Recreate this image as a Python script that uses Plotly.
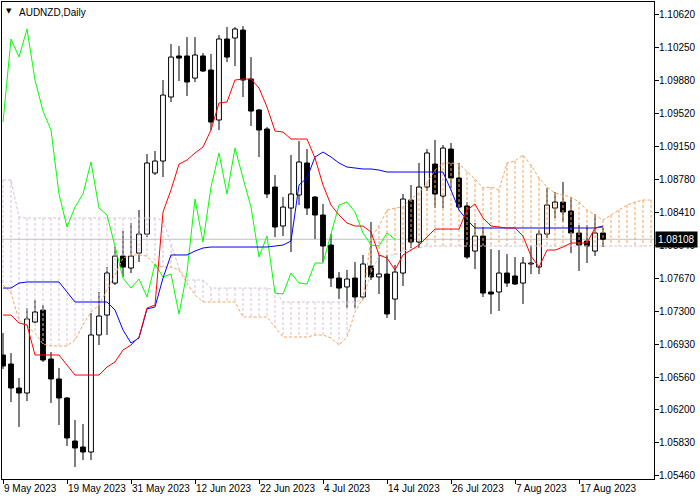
import plotly.graph_objects as go

# ---------------- data ----------------
date_labels = ["9 May 2023", "19 May 2023", "31 May 2023", "12 Jun 2023", "22 Jun 2023",
               "4 Jul 2023", "14 Jul 2023", "26 Jul 2023", "7 Aug 2023", "17 Aug 2023"]
label_bars = [0, 8, 16, 24, 32, 40, 48, 56, 64, 72]

opens = [1.06813, 1.06712, 1.06444, 1.06388, 1.07182, 1.07316, 1.06768, 1.06545, 1.06332, 1.05851,
         1.05784, 1.05728, 1.07037, 1.07260, 1.07618, 1.07920, 1.07786, 1.07953, 1.08166, 1.08849,
         1.08983, 1.09699, 1.10158, 1.10158, 1.09911, 1.10158, 1.10001, 1.09442, 1.10348, 1.10359,
         1.10448, 1.09900, 1.09554, 1.09341, 1.08692, 1.08256, 1.08457, 1.08603, 1.08961, 1.08580,
         1.08379, 1.08043, 1.07674, 1.07574, 1.07674, 1.07462, 1.07809, 1.07686, 1.07719, 1.07439,
         1.07730, 1.08547, 1.08077, 1.08692, 1.08949, 1.08591, 1.09117, 1.08793, 1.08480, 1.07976,
         1.08144, 1.07518, 1.07518, 1.07730, 1.07697, 1.07618, 1.07831, 1.07797, 1.08166, 1.08457,
         1.08524, 1.08424, 1.08178, 1.08088, 1.07976, 1.08178]
highs = [1.07059, 1.06835, 1.06556, 1.07339, 1.07428, 1.07372, 1.06847, 1.06668, 1.06343, 1.06086,
         1.06041, 1.07283, 1.07518, 1.07797, 1.08021, 1.08200, 1.08290, 1.08435, 1.09061, 1.09095,
         1.09889, 1.10292, 1.10269, 1.10370, 1.10370, 1.10191, 1.10180, 1.10392, 1.10482, 1.10482,
         1.10493, 1.10146, 1.09565, 1.09363, 1.08826, 1.08580, 1.09050, 1.09207, 1.09117, 1.08591,
         1.08502, 1.08166, 1.07741, 1.07764, 1.07853, 1.07932, 1.08301, 1.07932, 1.07932, 1.07820,
         1.08614, 1.08715, 1.08961, 1.09117, 1.09218, 1.09162, 1.09184, 1.08961, 1.08524, 1.08290,
         1.08245, 1.07998, 1.07987, 1.07942, 1.07909, 1.07909, 1.08043, 1.08211, 1.08681, 1.08636,
         1.08748, 1.08580, 1.08267, 1.08267, 1.08390, 1.08234]
lows = [1.06656, 1.06287, 1.06008, 1.06298, 1.07171, 1.06735, 1.06276, 1.06030, 1.05795, 1.05560,
        1.05638, 1.05638, 1.06925, 1.07037, 1.07596, 1.07686, 1.07730, 1.07853, 1.08133, 1.08826,
        1.08804, 1.09643, 1.09878, 1.09710, 1.09867, 1.09979, 1.09330, 1.09330, 1.10090, 1.10046,
        1.09699, 1.09375, 1.09028, 1.08569, 1.08133, 1.08144, 1.07965, 1.08491, 1.08379, 1.08110,
        1.07853, 1.07574, 1.07439, 1.07339, 1.07339, 1.07439, 1.07652, 1.07495, 1.07227, 1.07204,
        1.07585, 1.08010, 1.08010, 1.08647, 1.08457, 1.08457, 1.08681, 1.08457, 1.07887, 1.07775,
        1.07462, 1.07272, 1.07305, 1.07574, 1.07596, 1.07383, 1.07719, 1.07719, 1.08122, 1.08345,
        1.08301, 1.07953, 1.07753, 1.07842, 1.07920, 1.08021]
closes = [1.06690, 1.06444, 1.06388, 1.07216, 1.07294, 1.06757, 1.06545, 1.06332, 1.05885, 1.05773,
          1.05728, 1.07037, 1.07249, 1.07730, 1.07920, 1.07797, 1.07920, 1.08166, 1.08961, 1.08983,
          1.09721, 1.10146, 1.10135, 1.09867, 1.10169, 1.09990, 1.09419, 1.10348, 1.10146, 1.10460,
          1.09889, 1.09542, 1.09330, 1.08614, 1.08245, 1.08468, 1.08614, 1.08972, 1.08457, 1.08379,
          1.08032, 1.07674, 1.07562, 1.07663, 1.07462, 1.07831, 1.07686, 1.07719, 1.07272, 1.07741,
          1.08558, 1.08077, 1.08692, 1.09073, 1.08614, 1.09128, 1.08793, 1.08468, 1.07909, 1.08144,
          1.07506, 1.07495, 1.07730, 1.07618, 1.07607, 1.07842, 1.07842, 1.08166, 1.08491, 1.08524,
          1.08413, 1.08178, 1.08043, 1.08032, 1.08178, 1.08108]

tenkan = [1.07260, 1.07260, 1.07171, 1.07149, 1.06813, 1.06813, 1.06813, 1.06813, 1.06701, 1.06589,
          1.06589, 1.06589, 1.06589, 1.06679, 1.06735, 1.06869, 1.06925, 1.07014, 1.07339, 1.07372,
          1.08413, 1.08659, 1.08949, 1.08994, 1.09073, 1.09140, 1.09330, 1.09632, 1.09643, 1.09889,
          1.09900, 1.09900, 1.09800, 1.09587, 1.09319, 1.09307, 1.09229, 1.09229, 1.09229, 1.09017,
          1.08715, 1.08491, 1.08379, 1.08290, 1.08256, 1.08256, 1.08189, 1.07932, 1.07898, 1.07764,
          1.07932, 1.07987, 1.08043, 1.08133, 1.08222, 1.08222, 1.08222, 1.08222, 1.08435, 1.08502,
          1.08345, 1.08256, 1.08245, 1.08234, 1.08234, 1.08144, 1.07920, 1.07797, 1.07987, 1.07987,
          1.08021, 1.08066, 1.08066, 1.08066, 1.08234, 1.08245]
kijun = [1.07562, 1.07562, 1.07618, 1.07630, 1.07630, 1.07630, 1.07630, 1.07630, 1.07518, 1.07406,
         1.07406, 1.07406, 1.07406, 1.07406, 1.07316, 1.07093, 1.06947, 1.07003, 1.07328, 1.07350,
         1.07674, 1.07932, 1.07932, 1.07932, 1.07976, 1.08010, 1.08021, 1.08021, 1.08021, 1.08021,
         1.08021, 1.08021, 1.08021, 1.08021, 1.08032, 1.08043, 1.08088, 1.08715, 1.08793, 1.09028,
         1.09084, 1.09028, 1.08961, 1.08916, 1.08905, 1.08894, 1.08894, 1.08882, 1.08860, 1.08860,
         1.08860, 1.08860, 1.08860, 1.08860, 1.08860, 1.08860, 1.08659, 1.08435, 1.08323, 1.08234,
         1.08234, 1.08234, 1.08234, 1.08234, 1.08234, 1.08234, 1.08234, 1.08234, 1.08234, 1.08234,
         1.08234, 1.08234, 1.08234, 1.08234, 1.08234, 1.08256]
span_a = [1.07596, 1.07506, 1.07204, 1.07126, 1.07059, 1.06936, 1.06914, 1.06914, 1.06914, 1.06981,
          1.07149, 1.07294, 1.07372, 1.07540, 1.07708, 1.07898, 1.07932, 1.07932, 1.07920, 1.07820,
          1.07797, 1.07797, 1.07764, 1.07618, 1.07484, 1.07406, 1.07406, 1.07406, 1.07406, 1.07406,
          1.07238, 1.07238, 1.07238, 1.07238, 1.07126, 1.07014, 1.07014, 1.07014, 1.07014, 1.07037,
          1.07037, 1.07003, 1.06925, 1.07014, 1.07294, 1.07451, 1.08122, 1.08256, 1.08435, 1.08457,
          1.08468, 1.08558, 1.08625, 1.08737, 1.08882, 1.08961, 1.08961, 1.08949, 1.08860, 1.08782,
          1.08681, 1.08692, 1.08659, 1.08961, 1.08983, 1.09050, 1.08938, 1.08793, 1.08692, 1.08625,
          1.08603, 1.08580, 1.08524, 1.08435, 1.08379, 1.08323, 1.08379, 1.08435, 1.08491, 1.08524,
          1.08547, 1.08547]
span_b = [1.08771, 1.08771, 1.08357, 1.08345, 1.08345, 1.08345, 1.08345, 1.08345, 1.08345, 1.08345,
          1.08345, 1.08345, 1.08345, 1.08345, 1.08345, 1.08345, 1.08345, 1.08345, 1.08345, 1.08345,
          1.08323, 1.08043, 1.07786, 1.07652, 1.07652, 1.07652, 1.07562, 1.07562, 1.07562, 1.07562,
          1.07562, 1.07562, 1.07562, 1.07562, 1.07540, 1.07406, 1.07406, 1.07406, 1.07406, 1.07406,
          1.07406, 1.07406, 1.07406, 1.07406, 1.07406, 1.07428, 1.07741, 1.07920, 1.07932, 1.07932,
          1.07976, 1.07998, 1.08010, 1.08032, 1.08032, 1.08032, 1.08032, 1.08032, 1.08032, 1.08032,
          1.08032, 1.08032, 1.08032, 1.08032, 1.08032, 1.08032, 1.08032, 1.08032, 1.08032, 1.08032,
          1.08032, 1.08032, 1.08032, 1.08032, 1.08032, 1.08032, 1.08032, 1.08032, 1.08032, 1.08032,
          1.08032, 1.08032]
chikou_shift = 26
price_ticks = [1.10620, 1.10250, 1.09880, 1.09520, 1.09150, 1.08780, 1.08410, 1.08040,
               1.07670, 1.07300, 1.06930, 1.06560, 1.06200, 1.05830, 1.05460]
last_price = 1.08108
title_text = "AUDNZD,Daily"

# ---------------- styling ----------------
FONT = "Liberation Sans"
SANDY = "#F4A460"
THISTLE = "#D8BFD8"
HALF = 0.3

fig = go.Figure()

# candle wicks
wx, wy = [], []
for i in range(len(opens)):
    wx += [i, i, None]
    wy += [highs[i], lows[i], None]
fig.add_trace(go.Scatter(x=wx, y=wy, mode="lines", line=dict(color="black", width=1),
                         hoverinfo="skip"))

# candle bodies
bx_up, by_up, bx_dn, by_dn = [], [], [], []
for i in range(len(opens)):
    xs = [i - HALF, i + HALF, i + HALF, i - HALF, i - HALF, None]
    ys = [opens[i], opens[i], closes[i], closes[i], opens[i], None]
    if closes[i] >= opens[i]:
        bx_up += xs
        by_up += ys
    else:
        bx_dn += xs
        by_dn += ys
fig.add_trace(go.Scatter(x=bx_up, y=by_up, mode="lines", fill="toself", fillcolor="white",
                         line=dict(color="black", width=1), hoverinfo="skip"))
fig.add_trace(go.Scatter(x=bx_dn, y=by_dn, mode="lines", fill="toself", fillcolor="black",
                         line=dict(color="black", width=1), hoverinfo="skip"))

# cloud hatch
hx_a, hy_a, hx_b, hy_b = [], [], [], []
for i in range(len(span_a)):
    if span_a[i] >= span_b[i]:
        hx_a += [i, i, None]
        hy_a += [span_a[i], span_b[i], None]
    else:
        hx_b += [i, i, None]
        hy_b += [span_b[i], span_a[i], None]
fig.add_trace(go.Scatter(x=hx_b, y=hy_b, mode="lines",
                         line=dict(color=THISTLE, width=1, dash="3px,2px"), hoverinfo="skip"))
fig.add_trace(go.Scatter(x=hx_a, y=hy_a, mode="lines",
                         line=dict(color=SANDY, width=1, dash="3px,2px"), hoverinfo="skip"))

# span lines
fig.add_trace(go.Scatter(x=list(range(len(span_b))), y=span_b, mode="lines",
                         line=dict(color=THISTLE, width=1, dash="3px,2px"), hoverinfo="skip"))
fig.add_trace(go.Scatter(x=list(range(len(span_a))), y=span_a, mode="lines",
                         line=dict(color=SANDY, width=1, dash="3px,2px"), hoverinfo="skip"))

# chikou, tenkan, kijun
fig.add_trace(go.Scatter(x=[i - chikou_shift for i in range(chikou_shift, len(closes))],
                         y=closes[chikou_shift:], mode="lines",
                         line=dict(color="#00FF00", width=1), hoverinfo="skip"))
fig.add_trace(go.Scatter(x=list(range(len(kijun))), y=kijun, mode="lines",
                         line=dict(color="#0000FF", width=1), hoverinfo="skip"))
fig.add_trace(go.Scatter(x=list(range(len(tenkan))), y=tenkan, mode="lines",
                         line=dict(color="#FF0000", width=1), hoverinfo="skip"))

# current price line
fig.add_shape(type="line", xref="paper", x0=0, x1=1, yref="y", y0=last_price, y1=last_price,
              line=dict(color="#C0C0C0", width=1), layer="below")

fig.add_annotation(xref="paper", x=1, xanchor="left", xshift=1, yref="y", y=last_price,
                   yanchor="middle", text="%.5f" % last_price, showarrow=False,
                   bgcolor="black", font=dict(family=FONT, size=10, color="white"),
                   borderpad=2)

fig.add_annotation(xref="paper", yref="paper", x=0, y=1, xanchor="center", yanchor="middle",
                   xshift=7, yshift=-9, text="▼", showarrow=False,
                   font=dict(family="DejaVu Sans", size=7, color="black"))
fig.add_annotation(xref="paper", yref="paper", x=0, y=1, xanchor="left", yanchor="middle",
                   xshift=15, yshift=-10, text=title_text, showarrow=False,
                   font=dict(family=FONT, size=10, color="black"))

fig.update_layout(
    width=700, height=500,
    margin=dict(l=2, r=46, t=2, b=21, autoexpand=False),
    paper_bgcolor="white", plot_bgcolor="white",
    showlegend=False, hovermode=False,
    font=dict(family=FONT, size=10, color="black"),
    xaxis=dict(range=[-0.125, 81.375], tickvals=label_bars, ticktext=date_labels,
               ticks="outside", ticklen=4, tickcolor="black", showline=True, linecolor="black",
               linewidth=1, mirror=True, showgrid=False, zeroline=False, automargin=False,
               tickangle=0, ticklabelposition="outside right", fixedrange=True,
               tickfont=dict(family=FONT, size=10)),
    yaxis=dict(range=[1.05426, 1.10762], side="right", tickvals=price_ticks,
               ticktext=["%.5f" % v for v in price_ticks], ticks="outside", ticklen=4,
               tickcolor="black", showline=True, linecolor="black", linewidth=1, mirror=True,
               showgrid=False, zeroline=False, automargin=False, ticklabelstandoff=-2,
               fixedrange=True, tickfont=dict(family=FONT, size=10)),
)

fig.write_html("out.html",
               config={"displayModeBar": False, "staticPlot": True},
               post_script="document.body.style.margin='0px';document.body.style.padding='0px';")
